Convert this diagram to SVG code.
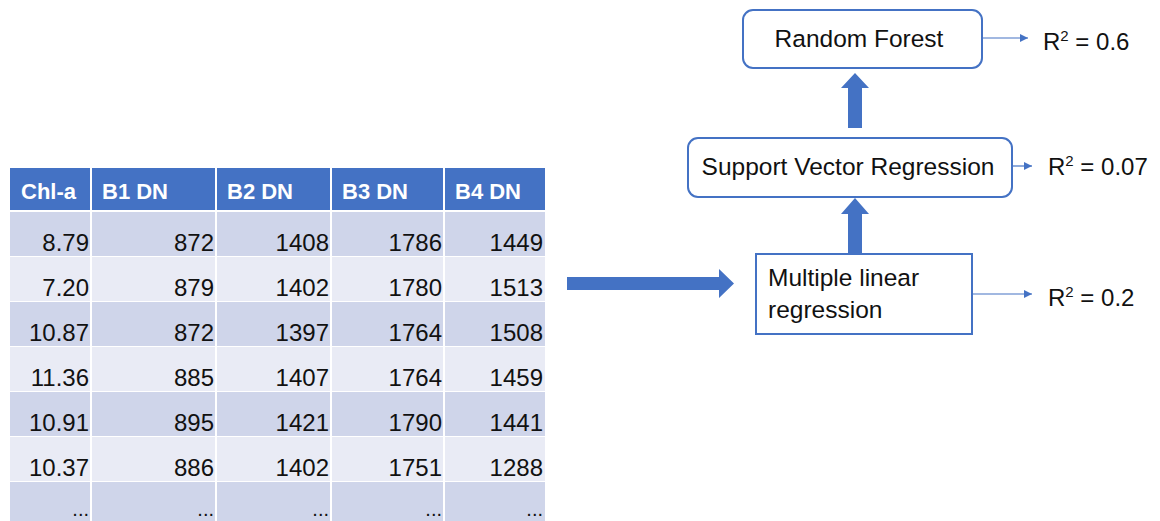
<svg xmlns="http://www.w3.org/2000/svg" width="1160" height="521" viewBox="0 0 1160 521">
<style>
.hd{font-family:"Liberation Sans",Arial,sans-serif;font-size:22px;font-weight:bold;fill:#fff}
.td{font-family:"Liberation Sans",Arial,sans-serif;font-size:24px;fill:#111;text-anchor:end}
.dt{font-family:"Liberation Sans",Arial,sans-serif;font-size:20px;fill:#111;text-anchor:end}
.nt{font-family:"Liberation Sans",Arial,sans-serif;font-size:24.5px;fill:#111}
.r2{font-family:"Liberation Sans",Arial,sans-serif;font-size:24px;fill:#111}
.sup{font-size:15px}
.box{fill:#fff;stroke:#4472C4;stroke-width:2}
.thin{stroke:#4472C4;stroke-width:1.2;fill:none;marker-end:url(#ah)}
.thick{fill:#4472C4}
.odd{fill:#CFD5EA}
.even{fill:#E9EBF5}
.sep{stroke:#fff;stroke-width:2}
</style>
<defs>
<marker id="ah" viewBox="0 0 10 10" refX="10" refY="5" markerWidth="8" markerHeight="8" markerUnits="userSpaceOnUse" orient="auto">
<path d="M0,0 L10,5 L0,10 z" fill="#4472C4"/>
</marker>
</defs>
<rect width="1160" height="521" fill="#fff"/>
<g id="table">
<rect x="10" y="168" width="535" height="42" fill="#4472C4"/>
<rect class="odd" x="10" y="212" width="535" height="44"/>
<rect class="even" x="10" y="257" width="535" height="44"/>
<rect class="odd" x="10" y="302" width="535" height="44"/>
<rect class="even" x="10" y="347" width="535" height="44"/>
<rect class="odd" x="10" y="392" width="535" height="44"/>
<rect class="even" x="10" y="437" width="535" height="44"/>
<rect class="odd" x="10" y="482" width="535" height="44"/>
<line class="sep" x1="91" y1="168" x2="91" y2="521"/>
<line class="sep" x1="216" y1="168" x2="216" y2="521"/>
<line class="sep" x1="331" y1="168" x2="331" y2="521"/>
<line class="sep" x1="444" y1="168" x2="444" y2="521"/>
<text class="hd" x="21" y="199">Chl-a</text>
<text class="hd" x="102" y="199">B1 DN</text>
<text class="hd" x="227" y="199">B2 DN</text>
<text class="hd" x="342" y="199">B3 DN</text>
<text class="hd" x="455" y="199">B4 DN</text>
<g>
<text class="td" x="89" y="251">8.79</text><text class="td" x="214" y="251">872</text><text class="td" x="329" y="251">1408</text><text class="td" x="442" y="251">1786</text><text class="td" x="543" y="251">1449</text>
<text class="td" x="89" y="296">7.20</text><text class="td" x="214" y="296">879</text><text class="td" x="329" y="296">1402</text><text class="td" x="442" y="296">1780</text><text class="td" x="543" y="296">1513</text>
<text class="td" x="89" y="341">10.87</text><text class="td" x="214" y="341">872</text><text class="td" x="329" y="341">1397</text><text class="td" x="442" y="341">1764</text><text class="td" x="543" y="341">1508</text>
<text class="td" x="89" y="386">11.36</text><text class="td" x="214" y="386">885</text><text class="td" x="329" y="386">1407</text><text class="td" x="442" y="386">1764</text><text class="td" x="543" y="386">1459</text>
<text class="td" x="89" y="431">10.91</text><text class="td" x="214" y="431">895</text><text class="td" x="329" y="431">1421</text><text class="td" x="442" y="431">1790</text><text class="td" x="543" y="431">1441</text>
<text class="td" x="89" y="476">10.37</text><text class="td" x="214" y="476">886</text><text class="td" x="329" y="476">1402</text><text class="td" x="442" y="476">1751</text><text class="td" x="543" y="476">1288</text>
<text class="dt" x="89" y="516">...</text><text class="dt" x="214" y="516">...</text><text class="dt" x="329" y="516">...</text><text class="dt" x="442" y="516">...</text><text class="dt" x="543" y="516">...</text>
</g>
</g>
<g id="connectors">
<polygon class="thick" points="567,277 719,277 719,269 734,283.5 719,298 719,290 567,290"/>
<polygon class="thick" points="848,253 848,214 841,214 855,198 869,214 862,214 862,253"/>
<polygon class="thick" points="848,128 848,88 841,88 855,73 869,88 862,88 862,128"/>
<line class="thin" x1="982" y1="38" x2="1028" y2="38"/>
<line class="thin" x1="1012" y1="166" x2="1032" y2="166"/>
<line class="thin" x1="972" y1="294" x2="1032" y2="294"/>
</g>
<g id="node-rf">
<rect class="box" x="743" y="10" width="239" height="58" rx="10"/>
<text class="nt" x="859" y="47" text-anchor="middle">Random Forest</text>
</g>
<g id="node-svr">
<rect class="box" x="688" y="138" width="324" height="59" rx="10"/>
<text class="nt" x="848" y="175" text-anchor="middle">Support Vector Regression</text>
</g>
<g id="node-mlr">
<rect class="box" x="756" y="254" width="216" height="80"/>
<text class="nt" x="768" y="286">Multiple linear</text>
<text class="nt" x="768" y="318">regression</text>
</g>
<g id="r2-labels">
<text class="r2" x="1043" y="50">R<tspan class="sup" dy="-9">2</tspan><tspan dy="9"> = 0.6</tspan></text>
<text class="r2" x="1048" y="175">R<tspan class="sup" dy="-9">2</tspan><tspan dy="9"> = 0.07</tspan></text>
<text class="r2" x="1048" y="306">R<tspan class="sup" dy="-9">2</tspan><tspan dy="9"> = 0.2</tspan></text>
</g>
</svg>
